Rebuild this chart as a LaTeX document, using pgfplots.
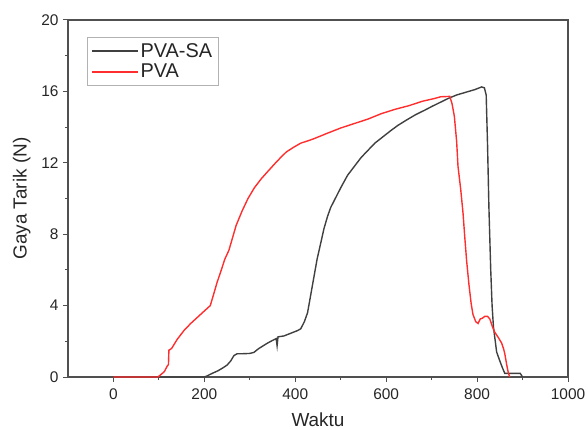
\documentclass[border=0pt]{standalone}
\usepackage{pgfplots}
\pgfplotsset{compat=1.18}
\usepackage{fontspec}
\setmainfont{Liberation Sans}
\definecolor{sacol}{HTML}{404040}
\definecolor{pvacol}{HTML}{FF2E2E}
\definecolor{axcol}{HTML}{505050}
\pgfplotsset{
    legend image code/.code={\draw[mark repeat=2,mark phase=2,#1] plot coordinates {(0bp,0bp) (46bp,0bp)};},
}
\begin{document}
\begin{tikzpicture}
\begin{axis}[
    scale only axis,
    width=500bp, height=357bp,
    xmin=-100, xmax=1000,
    ymin=0, ymax=20,
    xtick={0,200,...,1000},
    ytick={0,4,...,20},
    minor x tick num=1,
    minor y tick num=1,
    xtick pos=bottom, ytick pos=left,
    tick align=outside,
    major tick length=5bp,
    minor tick length=3bp,
    axis line style={axcol, line width=1.2bp},
    tick style={axcol, line width=1bp},
    /pgf/number format/assume math mode=true,
    /pgf/number format/1000 sep={},
    tick label style={font=\fontsize{15.5}{17}\selectfont, text=black!85},
    xticklabel style={yshift=-3bp},
    yticklabel style={xshift=-1bp},
    xlabel={Waktu}, ylabel={Gaya Tarik (N)},
    label style={font=\fontsize{19}{21}\selectfont, text=black!85},
    xlabel style={yshift=-6bp},
    ylabel style={yshift=4bp},
    legend style={at={(0.038,0.952)}, anchor=north west, draw=gray!60,
        font=\fontsize{20}{22}\selectfont, inner xsep=4bp, inner ysep=4bp, row sep=1.5bp, text=black!85},
    legend cell align=left,
    every axis plot/.append style={line width=1.4bp},
]
\addplot[sacol] coordinates {
 (0,0) (200,0) (205,0.05) (217,0.2) (230,0.35) (240,0.5) (250,0.67) (258,0.9) (265,1.2) (272,1.3) (280,1.3) (300,1.32) (309,1.38)
 (320,1.6) (339,1.9) (350,2.05) (358,2.15) (360,1.75) (362,2.25) (375,2.3) (390,2.45) (405,2.6) (412,2.7)
 (420,3.1) (427,3.6) (434,4.6) (441,5.6) (448,6.6) (456,7.5) (463,8.3) (471,9.0) (478,9.5) (490,10.1) (500,10.6)
 (515,11.3) (530,11.8) (545,12.3) (560,12.7) (575,13.1) (590,13.4) (610,13.8) (626,14.1) (645,14.4) (665,14.7)
 (685,14.95) (700,15.15) (720,15.4) (736,15.6) (755,15.8) (775,15.95) (795,16.1) (810,16.25) (816,16.2)
 (820,15.8) (823,13) (826,9.5) (830,6) (833,4) (836,2.8) (843,1.4) (850,0.9) (856,0.5) (861,0.2) (880,0.2) (895,0.2) (900,0)
};
\addlegendentry{PVA-SA}
\addplot[pvacol] coordinates {
 (0,0) (98,0) (105,0.15) (112,0.3) (118,0.6) (121,0.7) (122,1.5) (128,1.6) (140,2.1) (155,2.6) (170,3.0) (185,3.35)
 (200,3.7) (213,4.0) (220,4.6) (228,5.3) (236,5.9) (245,6.6) (254,7.1) (262,7.8) (270,8.5) (283,9.3) (296,10.0)
 (310,10.6) (325,11.1) (339,11.5) (355,11.95) (368,12.3) (380,12.6) (395,12.85) (412,13.1) (430,13.25) (441,13.35)
 (470,13.65) (500,13.95) (530,14.2) (560,14.45) (589,14.75) (620,15.0) (650,15.2) (680,15.45) (706,15.6) (720,15.7)
 (740,15.72) (745,15.3) (750,14.6) (755,13.2) (758,11.8) (764,10.5) (769,9.2) (773,7.8) (777,6.5) (782,5.2) (787,4.1)
 (791,3.5) (797,3.1) (802,3.0) (807,3.25) (812,3.3) (817,3.4) (823,3.4) (828,3.25) (834,2.8) (839,2.5) (847,2.2)
 (854,1.9) (858,1.6) (861,1.3) (865,0.7) (869,0.2) (872,0)
};
\addlegendentry{PVA}
\coordinate (sw) at (rel axis cs:0,0);
\coordinate (ne) at (rel axis cs:1,1);
\end{axis}
\pgfresetboundingbox
\path ([shift={(-68bp,-53bp)}]sw) rectangle ([shift={(20bp,20bp)}]ne);
\end{tikzpicture}
\end{document}
